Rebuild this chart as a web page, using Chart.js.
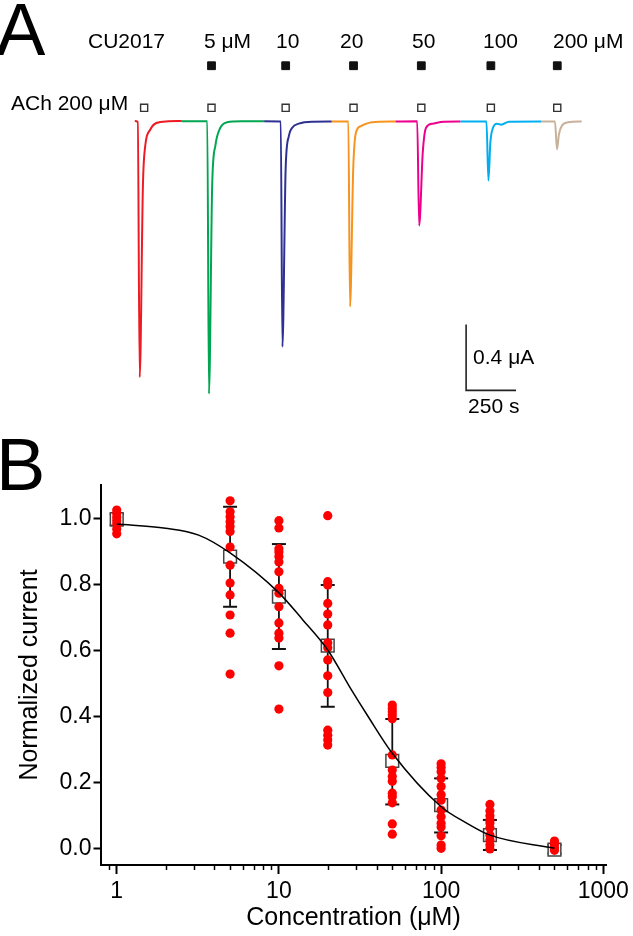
<!DOCTYPE html>
<html>
<head>
<meta charset="utf-8">
<script src="https://cdn.jsdelivr.net/npm/chart.js@4.4.0/dist/chart.umd.min.js"></script>
<style>
  body { margin: 0; background: #fff; }
  #page { position: relative; width: 633px; height: 936px; overflow: hidden; }
  #traces { position: absolute; left: 0; top: 0; }
  #dose { position: absolute; left: 0; top: 430px; }
</style>
</head>
<body>
<div id="page">
  <canvas id="traces" width="633" height="440"></canvas>
  <canvas id="dose" width="633" height="506"></canvas>
</div>
<script>
// ---- panel A: current traces (time in s, current in µA) ----
const ctrlTime = [0, 14.7, 24.5, 40.7, 52.5, 77.0, 107.8, 166.7, 235.3];
const ctrlCurrent = [0, -0.006, -1.553, -0.382, -0.147, -0.053, -0.012, -0.002, 0];
const cu5Time = [235.3, 362.7, 371.1, 387.3, 403.4, 427.9, 460.8, 534.3, 647.1];
const cu5Current = [-0.002, -0.002, -1.653, -0.382, -0.147, -0.041, -0.008, -0.002, -0.002];
const cu10Time = [647.1, 730.4, 738.7, 754.9, 771.1, 787.7, 820.1, 892.2, 985.3];
const cu10Current = [-0.002, -0.003, -1.369, -0.286, -0.090, -0.041, -0.016, -0.004, -0.003];
const cu20Time = [985.3, 1068.6, 1077.0, 1093.1, 1106.4, 1130.9, 1186.3, 1303.9];
const cu20Current = [-0.003, -0.003, -1.125, -0.286, -0.071, -0.031, -0.008, -0.003];
const cu50Time = [1303.9, 1413.3, 1423.1, 1441.2, 1457.4, 1490.2, 1547.6, 1629.0];
const cu50Current = [-0.003, -0.002, -0.634, -0.188, -0.041, -0.016, -0.004, -0.003];
const cu100Time = [1629.0, 1759.8, 1769.6, 1779.4, 1792.6, 1812.3, 1833.3, 1872.5, 2032.8];
const cu100Current = [-0.003, -0.003, -0.361, -0.129, -0.041, -0.016, -0.022, -0.004, -0.003];
const cu200Time = [2032.8, 2102.9, 2112.7, 2122.5, 2135.8, 2168.1, 2236.7];
const cu200Current = [-0.003, -0.003, -0.172, -0.081, -0.031, -0.008, -0.003];

const traceColors = ['#ed1c24', '#00a651', '#2e3192', '#f7941d', '#ec008c', '#00aeef', '#c7b299'];

const achTimes = [46.6, 383.8, 754.9, 1094.6, 1433.8, 1781.9, 2114.2];
const cuTimes = [383.8, 754.9, 1094.6, 1433.8, 1781.9, 2114.2];
const cuLabels = ['5 μM', '10', '20', '50', '100', '200 μM'];
const achLevel = 0.080;
const cuLevel = 0.335;

const scaleBarTime = [1658, 1908];      // 250 s
const scaleBarCurrent = [-1.233, -1.633]; // 0.4 µA

// ---- panel B: concentration-response ----
const concentrations = [1, 5, 10, 20, 50, 100, 200, 500];
const meanCurrent = [1.0, 0.886, 0.765, 0.616, 0.267, 0.133, 0.042, -0.002];
const errUpper = [1.015, 1.037, 0.924, 0.800, 0.394, 0.214, 0.088, 0.012];
const errLower = [0.980, 0.734, 0.606, 0.431, 0.135, 0.050, -0.003, -0.014];

const cells1 = [1.027, 1.017, 1.005, 0.995, 0.985, 0.970, 0.955];
const cells5 = [1.055, 1.022, 1.007, 0.992, 0.977, 0.962, 0.915, 0.860, 0.806, 0.770, 0.709, 0.654, 0.530];
const cells10 = [0.995, 0.973, 0.910, 0.900, 0.886, 0.870, 0.840, 0.790, 0.775, 0.734, 0.685, 0.654, 0.639, 0.555, 0.424];
const cells20 = [1.010, 0.810, 0.800, 0.744, 0.712, 0.679, 0.625, 0.610, 0.573, 0.525, 0.474, 0.360, 0.345, 0.330, 0.315];
const cells50 = [0.436, 0.426, 0.416, 0.406, 0.395, 0.285, 0.239, 0.220, 0.205, 0.169, 0.158, 0.140, 0.076, 0.045];
const cells100 = [0.258, 0.247, 0.234, 0.214, 0.189, 0.164, 0.148, 0.118, 0.098, 0.078, 0.067, 0.040, 0.012, 0.002];
const cells200 = [0.135, 0.115, 0.101, 0.088, 0.079, 0.064, 0.042, 0.027, 0.012, 0.000];
const cells500 = [0.024, 0.014, 0.004, -0.004];

const fitConc = [1, 2, 3.2, 5, 10, 14, 20, 28, 35, 50, 100, 142, 200, 500];
const fitValue = [0.985, 0.972, 0.951, 0.897, 0.776, 0.695, 0.603, 0.482, 0.406, 0.290, 0.128, 0.080, 0.042, 0.002];

const xMajorTicks = [1, 10, 100, 1000];
const xMinorTicks = [0.9, 2, 3, 4, 5, 6, 7, 8, 9, 20, 30, 40, 50, 60, 70, 80, 90, 200, 300, 400, 500, 600, 700, 800, 900];
const yTicks = [0, 0.2, 0.4, 0.6, 0.8, 1.0];

Chart.defaults.font.family = '"Liberation Sans", Arial, sans-serif';
Chart.defaults.color = '#000';

const FONT = '"Liberation Sans", Arial, sans-serif';

const toPoints = (xs, ys) => xs.map((v, i) => ({x: v, y: ys[i]}));

// ---------- panel A ----------
const traceSets = [
    [ctrlTime, ctrlCurrent], [cu5Time, cu5Current], [cu10Time, cu10Current],
    [cu20Time, cu20Current], [cu50Time, cu50Current], [cu100Time, cu100Current],
    [cu200Time, cu200Current]
].map(([t, c], i) => ({
    data: toPoints(t, c),
    showLine: true,
    borderColor: traceColors[i],
    borderWidth: 2,
    pointRadius: 0,
    cubicInterpolationMode: 'monotone'
}));

const traceLabels = {
    id: 'traceLabels',
    afterDraw(chart) {
        const {ctx, scales: {x, y}} = chart;
        ctx.save();
        ctx.fillStyle = '#000';
        ctx.textBaseline = 'alphabetic';
        ctx.textAlign = 'left';
        ctx.font = '74px ' + FONT;
        ctx.fillText('A', -4, 55);
        ctx.font = '21px ' + FONT;
        ctx.fillText('CU2017', 88, 48);
        const labelLeft = [204, 276, 340, 412, 483, 553];
        cuLabels.forEach((txt, i) => ctx.fillText(txt, labelLeft[i], 48));
        ctx.fillText('ACh 200 μM', 11, 110);
        const sx = x.getPixelForValue(scaleBarTime[0]);
        const sTop = y.getPixelForValue(scaleBarCurrent[0]);
        const sBot = y.getPixelForValue(scaleBarCurrent[1]);
        ctx.fillText('0.4 μA', sx + 7, (sTop + sBot) / 2 + 7);
        ctx.fillText('250 s', sx + 2, sBot + 23);
        ctx.restore();
    }
};

new Chart(document.getElementById('traces'), {
    type: 'scatter',
    data: {
        datasets: [
            ...traceSets,
            {
                data: achTimes.map(t => ({x: t, y: achLevel})),
                pointStyle: 'rect', pointRadius: 5, pointBackgroundColor: '#fff',
                pointBorderColor: '#333', pointBorderWidth: 1.4
            },
            {
                data: cuTimes.map(t => ({x: t, y: cuLevel})),
                pointStyle: 'rect', pointRadius: 5.5, pointBackgroundColor: '#111',
                pointBorderColor: '#111', pointBorderWidth: 1
            },
            {
                data: [
                    {x: scaleBarTime[0], y: scaleBarCurrent[0]},
                    {x: scaleBarTime[0], y: scaleBarCurrent[1]},
                    {x: scaleBarTime[1], y: scaleBarCurrent[1]}
                ],
                showLine: true, borderColor: '#222', borderWidth: 1.6, pointRadius: 0
            }
        ]
    },
    options: {
        responsive: false,
        animation: false,
        layout: {padding: 0},
        plugins: {legend: {display: false}, tooltip: {enabled: false}},
        scales: {
            x: {type: 'linear', display: false, min: -642.2, max: 2460.7},
            y: {type: 'linear', display: false, min: -1.8941, max: 0.6941}
        }
    },
    plugins: [traceLabels]
});

// ---------- panel B ----------
const cellGroups = [cells1, cells5, cells10, cells20, cells50, cells100, cells200, cells500];
const cellPoints = [];
cellGroups.forEach((group, i) => group.forEach(v => cellPoints.push({x: concentrations[i], y: v})));

const errorSets = concentrations.map((c, i) => ({
    data: [{x: c, y: errLower[i]}, {x: c, y: errUpper[i]}],
    showLine: true,
    borderColor: '#111',
    borderWidth: 1.8,
    pointStyle: 'line',
    pointRadius: 7,
    pointBorderWidth: 2,
    pointBorderColor: '#111',
    order: 3
}));

const minorTicks = {
    id: 'minorTicks',
    afterDraw(chart) {
        const {ctx, chartArea, scales: {x}} = chart;
        ctx.save();
        ctx.strokeStyle = '#000';
        ctx.lineWidth = 1.5;
        xMinorTicks.forEach(v => {
            const px = Math.round(x.getPixelForValue(v)) + 0.5;
            ctx.beginPath();
            ctx.moveTo(px, chartArea.bottom);
            ctx.lineTo(px, chartArea.bottom + 5);
            ctx.stroke();
        });
        ctx.fillStyle = '#000';
        ctx.font = '74px ' + FONT;
        ctx.textBaseline = 'alphabetic';
        ctx.fillText('B', -4, 60);
        ctx.restore();
    }
};

new Chart(document.getElementById('dose'), {
    type: 'scatter',
    data: {
        datasets: [
            {
                data: toPoints(fitConc, fitValue),
                showLine: true, borderColor: '#000', borderWidth: 1.5,
                pointRadius: 0, cubicInterpolationMode: 'monotone', order: 0
            },
            {
                data: cellPoints,
                pointRadius: 4.6, pointBackgroundColor: '#ff0000', pointBorderWidth: 0, order: 1
            },
            {
                data: toPoints(concentrations, meanCurrent),
                pointStyle: 'rect', pointRadius: 9, pointBackgroundColor: '#fff',
                pointBorderColor: '#444', pointBorderWidth: 1.5, order: 2
            },
            ...errorSets
        ]
    },
    options: {
        responsive: false,
        animation: false,
        layout: {padding: {top: 55, right: 20, left: 0, bottom: 0}, autoPadding: false},
        plugins: {legend: {display: false}, tooltip: {enabled: false}},
        scales: {
            x: {
                type: 'logarithmic',
                min: 0.8,
                max: 1040,
                afterFit: (s) => { s.height = 71; },
                afterBuildTicks: (s) => { s.ticks = xMajorTicks.map(v => ({value: v})); },
                ticks: {
                    autoSkip: false, maxRotation: 0, padding: 4,
                    font: {size: 23}, color: '#000',
                    callback: (v) => String(v)
                },
                grid: {drawOnChartArea: false, tickLength: 9, tickWidth: 2, tickColor: '#000'},
                border: {color: '#000', width: 2},
                title: {
                    display: true, text: 'Concentration (μM)', color: '#000',
                    font: {size: 25, lineHeight: 1.2}, padding: {top: 0, bottom: 3}
                }
            },
            y: {
                type: 'linear',
                min: -0.0485,
                max: 1.103,
                afterFit: (s) => { s.width = 101; },
                afterBuildTicks: (s) => { s.ticks = yTicks.map(v => ({value: v})); },
                ticks: {
                    padding: 2, font: {size: 23}, color: '#000',
                    callback: (v) => v.toFixed(1)
                },
                grid: {drawOnChartArea: false, tickLength: 7.5, tickWidth: 2, tickColor: '#000'},
                border: {color: '#000', width: 2},
                title: {
                    display: true, text: 'Normalized current', color: '#000',
                    font: {size: 25, lineHeight: 1.2}, padding: {top: 15, bottom: 0}
                }
            }
        }
    },
    plugins: [minorTicks]
});
</script>
</body>
</html>
